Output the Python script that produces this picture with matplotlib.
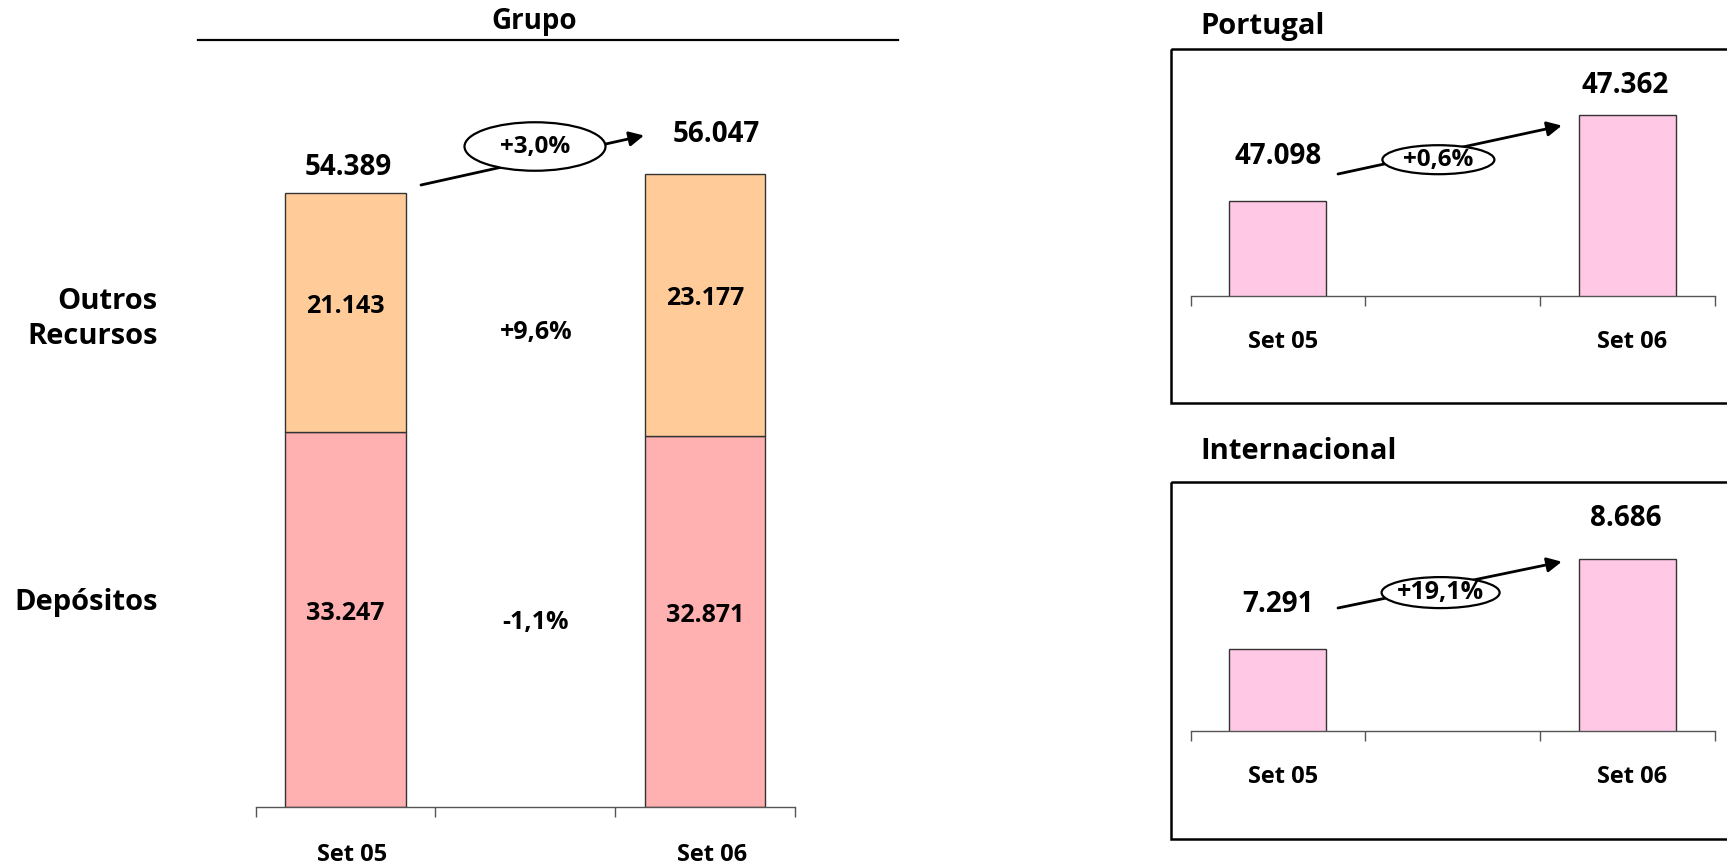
import matplotlib
matplotlib.use('Agg')
import matplotlib.pyplot as plt
from matplotlib.patches import Ellipse, Rectangle, FancyArrowPatch
from matplotlib.lines import Line2D
from matplotlib.transforms import Affine2D, ScaledTranslation

# ---------------- data ----------------
categories = ['Set 05', '', 'Set 06']
grupo_depositos = [33247, 32871]
grupo_outros = [21143, 23177]
grupo_totais = [54389, 56047]
grupo_var_total = '+3,0%'
grupo_var_outros = '+9,6%'
grupo_var_depositos = '-1,1%'
segment_names = ['Outros\nRecursos', 'Depósitos']

portugal_values = [47098, 47362]
portugal_var = '+0,6%'
intl_values = [7291, 8686]
intl_var = '+19,1%'
panel_titles = ['Portugal', 'Internacional']

# ---------------- style ----------------
W, H, DPI = 1727, 866, 100
plt.rcParams['font.family'] = ['Open Sans', 'DejaVu Sans']
plt.rcParams['font.weight'] = 'bold'
C_OUT = '#FFCC99'
C_DEP = '#FFB0B0'
C_PINK = '#FFC8E4'
EDGE = '#333333'
AXC = '#555555'


def fmt(v):
    return f'{v:,}'.replace(',', '.')


fig = plt.figure(figsize=(W / DPI, H / DPI), dpi=DPI)
PX = Affine2D().scale(1 / W, -1 / H).translate(0, 1) + fig.transFigure


def fig_axes(left, right, bottom, top):
    return fig.add_axes([left / W, 1 - bottom / H, (right - left) / W, (bottom - top) / H])


def style_axis(ax, pad, fs, shift_px):
    for s in ['left', 'top', 'right']:
        ax.spines[s].set_visible(False)
    ax.spines['bottom'].set_color(AXC)
    ax.spines['bottom'].set_linewidth(1.0)
    ax.set_yticks([])
    ax.set_xlim(-0.5, 2.5)
    ax.set_xticks([0, 2])
    ax.set_xticklabels([categories[0], categories[2]], fontsize=fs, fontweight='bold')
    ax.set_xticks([-0.5, 0.5, 1.5, 2.5], minor=True)
    ax.tick_params(axis='x', which='major', length=0, pad=pad)
    ax.tick_params(axis='x', which='minor', length=7.5, width=1, color=AXC, direction='out')
    for lab in ax.get_xticklabels():
        lab.set_transform(lab.get_transform() + ScaledTranslation(shift_px / DPI, 0, fig.dpi_scale_trans))
    ax.patch.set_alpha(0)


def bubble(x0, y0, x1, y1, cx, cy, w, h, label, fs):
    fig.add_artist(FancyArrowPatch(
        (x0, y0), (x1, y1), transform=PX, arrowstyle='-|>', mutation_scale=22,
        color='black', lw=2.0, shrinkA=0, shrinkB=0, zorder=5))
    fig.add_artist(Ellipse((cx, cy), w, h, transform=PX, facecolor='white',
                           edgecolor='black', lw=1.6, zorder=6))
    fig.text(cx, cy, label, transform=PX, ha='center', va='center',
             fontsize=fs, fontweight='bold', zorder=7)


# ---------------- main (Grupo) ----------------
pos = [0, 2]
ax = fig_axes(255.5, 795, 807, 62)
ax.set_ylim(0, 66000)
ax.bar(pos, grupo_depositos, width=0.67, color=C_DEP, edgecolor=EDGE, lw=1)
ax.bar(pos, grupo_outros, bottom=grupo_depositos, width=0.67, color=C_OUT,
       edgecolor=EDGE, lw=1)
style_axis(ax, 26, 17, 7)

tot_off = [(2, 18.7), (8, 28.8)]
for p, d, o, t, off in zip(pos, grupo_depositos, grupo_outros, grupo_totais, tot_off):
    ax.annotate(fmt(t), (p, t), xytext=off, textcoords='offset points',
                ha='center', va='center', fontsize=20, fontweight='bold')
    ax.annotate(fmt(d), (p, d / 2), xytext=(0, 4.5), textcoords='offset points',
                ha='center', va='center', fontsize=18, fontweight='bold')
    ax.annotate(fmt(o), (p, d + o / 2), xytext=(0, 4.5), textcoords='offset points',
                ha='center', va='center', fontsize=18, fontweight='bold')

fig.text(536, 333, grupo_var_outros, transform=PX, ha='center', va='center',
         fontsize=18, fontweight='bold')
fig.text(536, 622, grupo_var_depositos, transform=PX, ha='center', va='center',
         fontsize=18, fontweight='bold')

fig.text(157.5, 319, segment_names[0], transform=PX, ha='right', va='center',
         fontsize=21, fontweight='bold', linespacing=1.25, multialignment='right')
fig.text(157.5, 602.5, segment_names[1], transform=PX, ha='right', va='center',
         fontsize=21, fontweight='bold')

fig.text(534, 22, 'Grupo', transform=PX, ha='center', va='center',
         fontsize=20, fontweight='bold')
fig.add_artist(Line2D([198, 898], [40, 40], transform=PX, color='black', lw=1.6))

bubble(421, 185, 644, 135.5, 535, 146.5, 141, 48.5, grupo_var_total, 17.5)


# ---------------- right panels ----------------
def panel(values, var, ylo, yhi, base_px, top_px, box_top, box_bot, title, title_y,
          offs, arrow, ell, bfs):
    fig.add_artist(Rectangle((1171, box_top), 600, box_bot - box_top, transform=PX,
                             facecolor='none', edgecolor='black', lw=1.8, zorder=1))
    fig.text(1200.5, title_y, title, transform=PX, ha='left', va='center',
             fontsize=21, fontweight='bold')
    a = fig_axes(1190.6, 1714.9, base_px, top_px)
    a.bar(pos, values, width=0.555, color=C_PINK, edgecolor=EDGE, lw=1)
    a.set_ylim(ylo, yhi)
    style_axis(a, 24.5, 17, 5)
    for p, v, off in zip(pos, values, offs):
        a.annotate(fmt(v), (p, v), xytext=off, textcoords='offset points',
                   ha='center', va='center', fontsize=20, fontweight='bold')
    bubble(*arrow, *ell, var, bfs)


panel(portugal_values, portugal_var, 46807, 47532, 296.3, 60, 48.5, 403,
      panel_titles[0], 26.4, [(0, 32.4), (-1.5, 21.6)],
      (1338, 174, 1561.8, 125.6), (1438.4, 159.7, 112, 29), 17.5)

panel(intl_values, intl_var, 5999, 9710, 731.3, 494, 482.4, 839.3,
      panel_titles[1], 451.6, [(0, 31.7), (-1.5, 29.3)],
      (1338, 608, 1561.8, 561.7), (1440.6, 592.6, 118, 31), 18)

fig.savefig('out.png', dpi=DPI, facecolor='white')
